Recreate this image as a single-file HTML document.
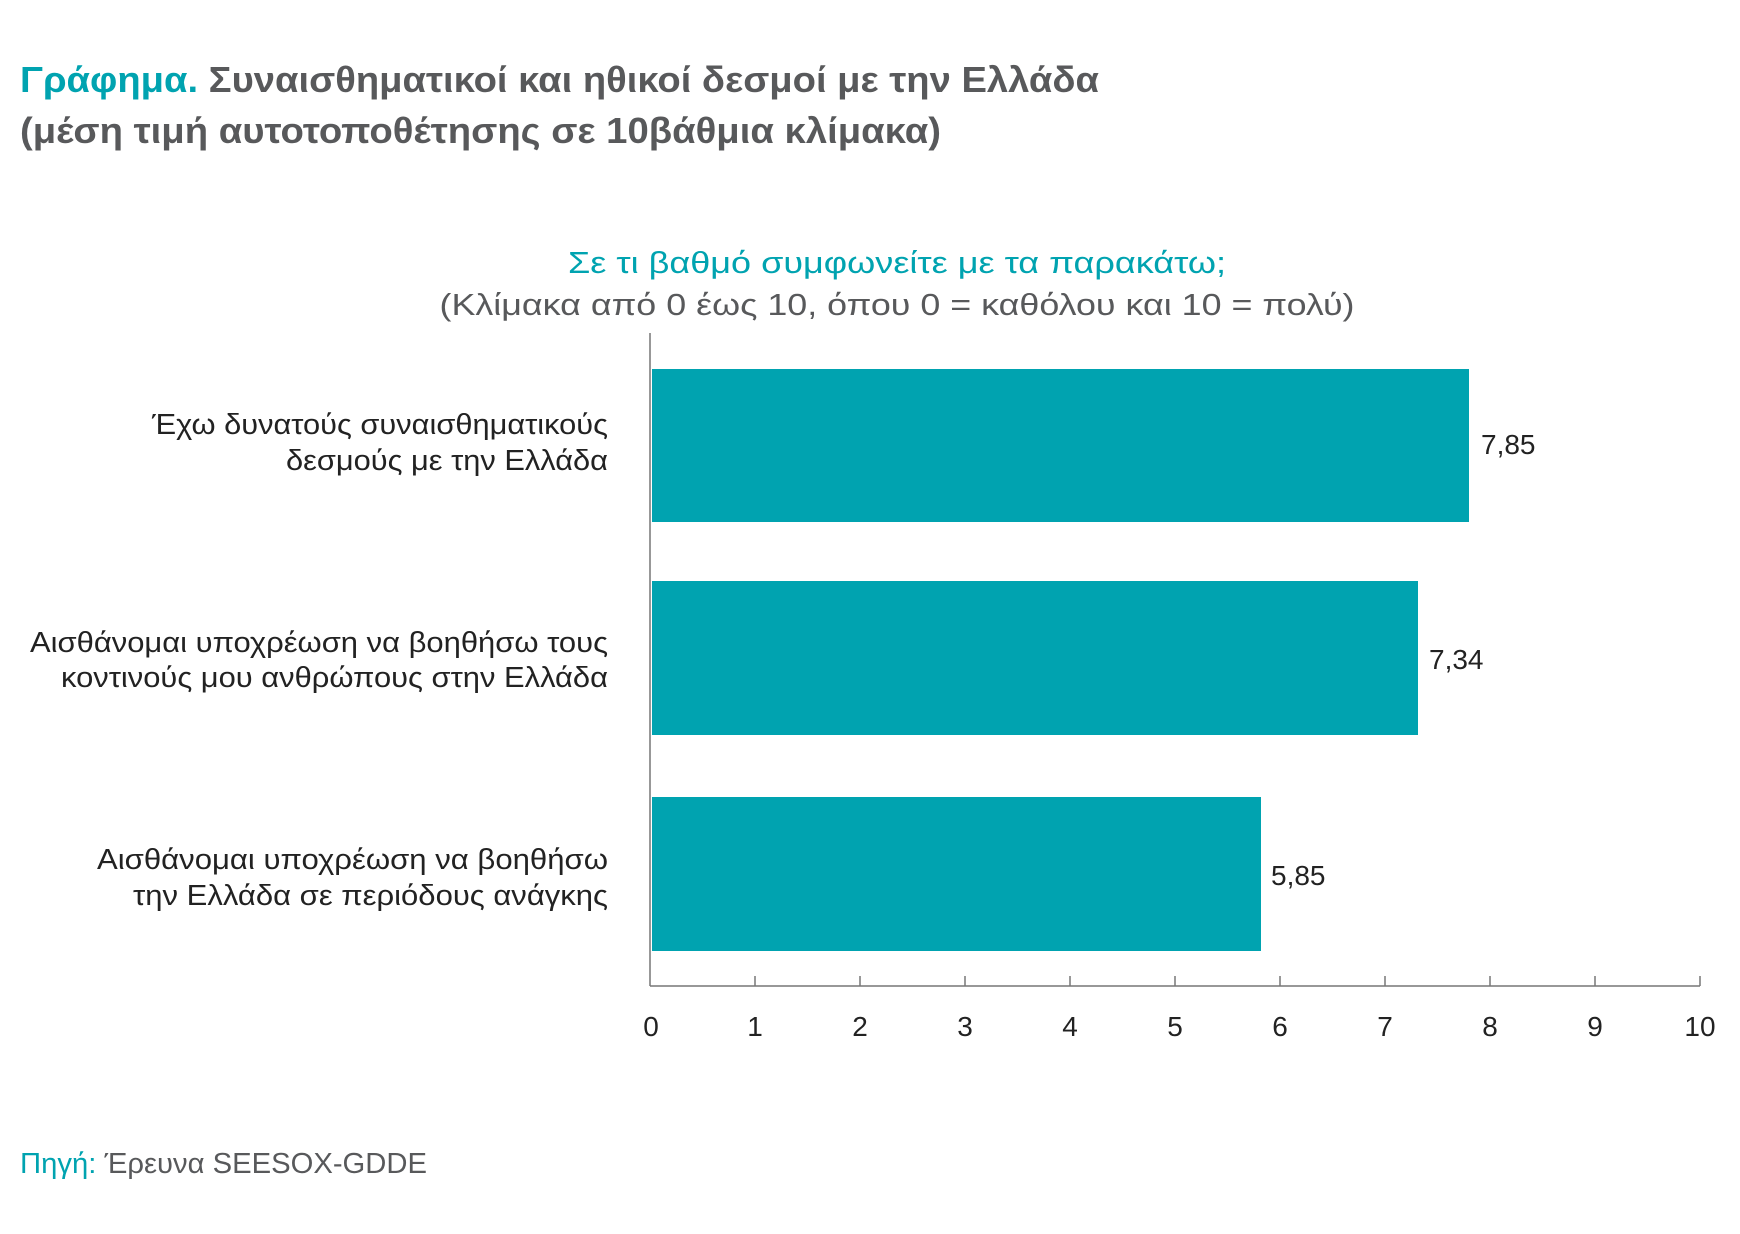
<!DOCTYPE html>
<html><head><meta charset="utf-8"><style>
body{margin:0;background:#fff;}
svg text{font-family:"Liberation Sans","DejaVu Sans",sans-serif;}
</style></head><body>
<svg width="1740" height="1229" viewBox="0 0 1740 1229" xmlns="http://www.w3.org/2000/svg">
<rect width="1740" height="1229" fill="#fff"/>
<text x="20" y="92" font-size="36" font-weight="bold" fill="#58595b" textLength="1079" lengthAdjust="spacingAndGlyphs"><tspan fill="#00a3b0">Γράφημα.</tspan> Συναισθηματικοί και ηθικοί δεσμοί με την Ελλάδα</text>
<text x="20" y="143" font-size="36" font-weight="bold" fill="#58595b" textLength="921" lengthAdjust="spacingAndGlyphs">(μέση τιμή αυτοτοποθέτησης σε 10βάθμια κλίμακα)</text>
<text x="897" y="273" font-size="31" fill="#00a3b0" text-anchor="middle" textLength="658" lengthAdjust="spacingAndGlyphs">Σε τι βαθμό συμφωνείτε με τα παρακάτω;</text>
<text x="897" y="315" font-size="31" fill="#58595b" text-anchor="middle" textLength="915" lengthAdjust="spacingAndGlyphs">(Κλίμακα από 0 έως 10, όπου 0 = καθόλου και 10 = πολύ)</text>
<g fill="#00a3b0">
<rect x="652" y="369" width="817" height="153"/>
<rect x="652" y="581" width="766" height="154"/>
<rect x="652" y="797" width="609" height="154"/>
</g>
<g stroke="#777" stroke-width="1.5">
<line x1="650" y1="333" x2="650" y2="986"/>
<line x1="650" y1="986" x2="1700" y2="986"/>
<line x1="755" y1="976" x2="755" y2="986"/><line x1="860" y1="976" x2="860" y2="986"/><line x1="965" y1="976" x2="965" y2="986"/><line x1="1070" y1="976" x2="1070" y2="986"/><line x1="1175" y1="976" x2="1175" y2="986"/><line x1="1280" y1="976" x2="1280" y2="986"/><line x1="1385" y1="976" x2="1385" y2="986"/><line x1="1490" y1="976" x2="1490" y2="986"/><line x1="1595" y1="976" x2="1595" y2="986"/><line x1="1700" y1="976" x2="1700" y2="986"/>
</g>
<g font-size="28" fill="#222" text-anchor="middle">
<text x="651" y="1036">0</text><text x="755" y="1036">1</text><text x="860" y="1036">2</text><text x="965" y="1036">3</text><text x="1070" y="1036">4</text><text x="1175" y="1036">5</text><text x="1280" y="1036">6</text><text x="1385" y="1036">7</text><text x="1490" y="1036">8</text><text x="1595" y="1036">9</text><text x="1700" y="1036">10</text>
</g>
<g font-size="29" fill="#222" text-anchor="end" lengthAdjust="spacingAndGlyphs">
<text x="608" y="434" textLength="456" lengthAdjust="spacingAndGlyphs">Έχω δυνατούς συναισθηματικούς</text>
<text x="608" y="470" textLength="322" lengthAdjust="spacingAndGlyphs">δεσμούς με την Ελλάδα</text>
<text x="608" y="652" textLength="578" lengthAdjust="spacingAndGlyphs">Αισθάνομαι υποχρέωση να βοηθήσω τους</text>
<text x="608" y="687" textLength="547" lengthAdjust="spacingAndGlyphs">κοντινούς μου ανθρώπους στην Ελλάδα</text>
<text x="608" y="869" textLength="511" lengthAdjust="spacingAndGlyphs">Αισθάνομαι υποχρέωση να βοηθήσω</text>
<text x="608" y="905" textLength="475" lengthAdjust="spacingAndGlyphs">την Ελλάδα σε περιόδους ανάγκης</text>
</g>
<g font-size="28" fill="#222">
<text x="1481" y="454">7,85</text>
<text x="1429" y="669">7,34</text>
<text x="1271" y="885">5,85</text>
</g>
<text x="20" y="1173" font-size="29" fill="#58595b" textLength="407" lengthAdjust="spacingAndGlyphs"><tspan fill="#00a3b0">Πηγή:</tspan> Έρευνα SEESOX-GDDE</text>
</svg>
</body></html>
